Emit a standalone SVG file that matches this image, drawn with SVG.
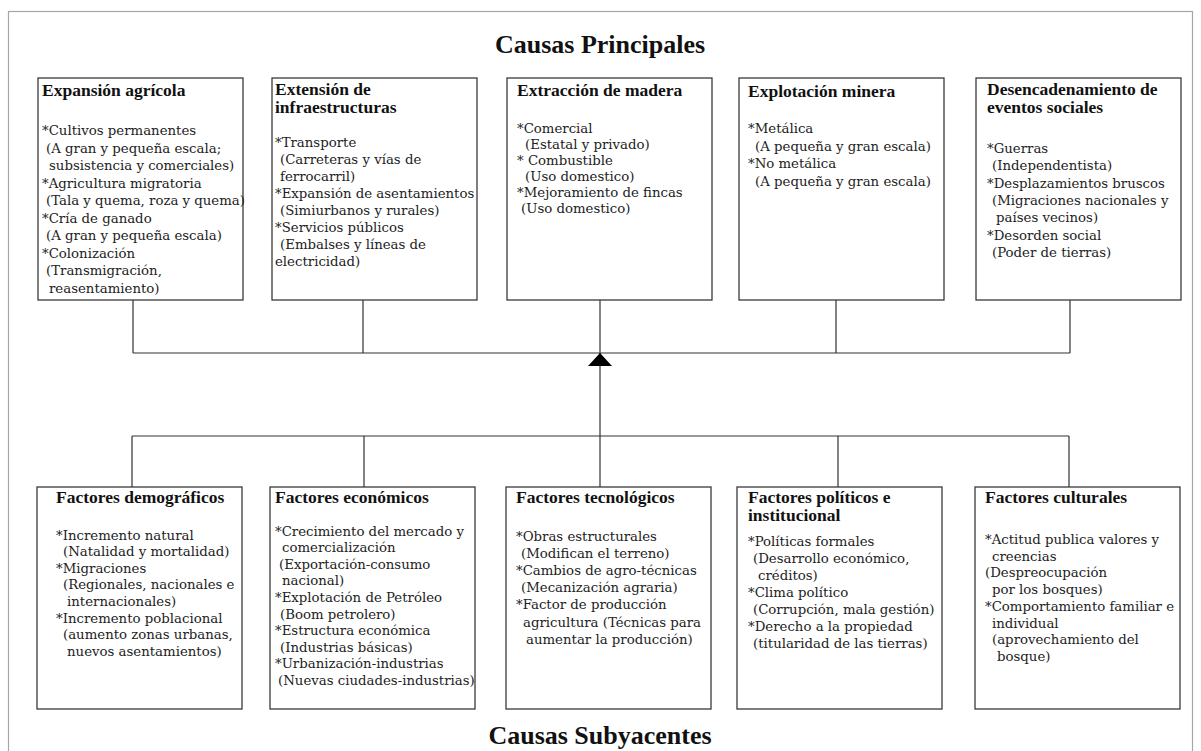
<svg xmlns="http://www.w3.org/2000/svg" width="1201" height="751" viewBox="0 0 1201 751">
<defs>
<style>
.box{fill:#fff;stroke:#3a3a3a;stroke-width:1.3}
.h{font-family:"Liberation Serif","Times New Roman",serif;font-weight:bold;font-size:17.5px;fill:#111}
.b{font-family:"DejaVu Serif",serif;font-size:13.3px;fill:#222}
.t{font-family:"Liberation Serif","Times New Roman",serif;font-weight:bold;font-size:26px;fill:#111;text-anchor:middle}
.c{stroke:#333;stroke-width:1.2;fill:none}
</style>
<marker id="arr" viewBox="0 0 13 24" refX="13" refY="12" markerWidth="13" markerHeight="24" markerUnits="userSpaceOnUse" orient="auto">
<path d="M0,0 L13,12 L0,24 Z" fill="#000"/>
</marker>
</defs>
<rect x="0" y="0" width="1201" height="751" fill="#fff"/>
<rect x="8.5" y="11.5" width="1184" height="760" fill="none" stroke="#a6a6a6" stroke-width="1.2"/>
<g id="titles">
<text class="t" x="600" y="53">Causas Principales</text>
<text class="t" x="600" y="744">Causas Subyacentes</text>
</g>
<g id="connectors">
<path class="c" d="M133 300V353M363 300V353M600 300V353M836 300V353M1070 300V353M133 353H1070"/>
<path class="c" d="M600 436V353" marker-end="url(#arr)"/>
<path class="c" d="M132 436H1069M132 436V487M364 436V487M600 436V487M838 436V487M1069 436V487"/>
</g>
<g id="expansion-agricola">
<rect class="box" x="38" y="78" width="205" height="222"/>
<text class="h" x="42" y="96">Expansión agrícola</text>
<text class="b" x="42" y="135">*Cultivos permanentes</text>
<text class="b" x="46" y="152.5">(A gran y pequeña escala;</text>
<text class="b" x="49" y="170">subsistencia y comerciales)</text>
<text class="b" x="42" y="187.5">*Agricultura migratoria</text>
<text class="b" x="46" y="205">(Tala y quema, roza y quema)</text>
<text class="b" x="42" y="222.5">*Cría de ganado</text>
<text class="b" x="46" y="240">(A gran y pequeña escala)</text>
<text class="b" x="42" y="257.5">*Colonización</text>
<text class="b" x="46" y="275">(Transmigración,</text>
<text class="b" x="49" y="292.5">reasentamiento)</text>
</g>
<g id="extension-infraestructuras">
<rect class="box" x="272" y="78" width="205" height="222"/>
<text class="h" x="275" y="95">Extensión de</text>
<text class="h" x="275" y="113">infraestructuras</text>
<text class="b" x="275" y="146.5">*Transporte</text>
<text class="b" x="280" y="163.5">(Carreteras y vías de</text>
<text class="b" x="280" y="180.5">ferrocarril)</text>
<text class="b" x="275" y="197.5">*Expansión de asentamientos</text>
<text class="b" x="280" y="214.5">(Simiurbanos y rurales)</text>
<text class="b" x="275" y="231.5">*Servicios públicos</text>
<text class="b" x="280" y="248.5">(Embalses y líneas de</text>
<text class="b" x="275" y="265.5">electricidad)</text>
</g>
<g id="extraccion-madera">
<rect class="box" x="507" y="78" width="205" height="222"/>
<text class="h" x="517" y="96">Extracción de madera</text>
<text class="b" x="517" y="133">*Comercial</text>
<text class="b" x="525" y="149">(Estatal y privado)</text>
<text class="b" x="517" y="165">* Combustible</text>
<text class="b" x="525" y="181">(Uso domestico)</text>
<text class="b" x="517" y="197">*Mejoramiento de fincas</text>
<text class="b" x="521" y="213">(Uso domestico)</text>
</g>
<g id="explotacion-minera">
<rect class="box" x="739" y="78" width="205" height="222"/>
<text class="h" x="748" y="97">Explotación minera</text>
<text class="b" x="748" y="133">*Metálica</text>
<text class="b" x="755" y="150.5">(A pequeña y gran escala)</text>
<text class="b" x="748" y="168">*No metálica</text>
<text class="b" x="755" y="185.5">(A pequeña y gran escala)</text>
</g>
<g id="eventos-sociales">
<rect class="box" x="976" y="78" width="205" height="222"/>
<text class="h" x="987" y="95">Desencadenamiento de</text>
<text class="h" x="987" y="113">eventos sociales</text>
<text class="b" x="987" y="153">*Guerras</text>
<text class="b" x="992" y="170.3">(Independentista)</text>
<text class="b" x="987" y="187.6">*Desplazamientos bruscos</text>
<text class="b" x="992" y="204.9">(Migraciones nacionales y</text>
<text class="b" x="996" y="222.2">países vecinos)</text>
<text class="b" x="987" y="239.5">*Desorden social</text>
<text class="b" x="992" y="256.8">(Poder de tierras)</text>
</g>
<g id="factores-demograficos">
<rect class="box" x="37" y="487" width="205" height="222"/>
<text class="h" x="56" y="503">Factores demográficos</text>
<text class="b" x="56" y="539.5">*Incremento natural</text>
<text class="b" x="63" y="556.1">(Natalidad y mortalidad)</text>
<text class="b" x="56" y="572.7">*Migraciones</text>
<text class="b" x="63" y="589.3">(Regionales, nacionales e</text>
<text class="b" x="67" y="605.9">internacionales)</text>
<text class="b" x="56" y="622.5">*Incremento poblacional</text>
<text class="b" x="63" y="639.1">(aumento zonas urbanas,</text>
<text class="b" x="67" y="655.7">nuevos asentamientos)</text>
</g>
<g id="factores-economicos">
<rect class="box" x="270" y="487" width="205" height="222"/>
<text class="h" x="275" y="503">Factores económicos</text>
<text class="b" x="275" y="535.5">*Crecimiento del mercado y</text>
<text class="b" x="282" y="552.1">comercialización</text>
<text class="b" x="279" y="568.7">(Exportación-consumo</text>
<text class="b" x="282" y="585.3">nacional)</text>
<text class="b" x="275" y="601.9">*Explotación de Petróleo</text>
<text class="b" x="280" y="618.5">(Boom petrolero)</text>
<text class="b" x="275" y="635.1">*Estructura económica</text>
<text class="b" x="280" y="651.7">(Industrias básicas)</text>
<text class="b" x="275" y="668.3">*Urbanización-industrias</text>
<text class="b" x="278" y="684.9">(Nuevas ciudades-industrias)</text>
</g>
<g id="factores-tecnologicos">
<rect class="box" x="506" y="487" width="205" height="222"/>
<text class="h" x="516" y="503">Factores tecnológicos</text>
<text class="b" x="516" y="541">*Obras estructurales</text>
<text class="b" x="521" y="558.1">(Modifican el terreno)</text>
<text class="b" x="516" y="575.2">*Cambios de agro-técnicas</text>
<text class="b" x="521" y="592.3">(Mecanización agraria)</text>
<text class="b" x="516" y="609.4">*Factor de producción</text>
<text class="b" x="523" y="626.5">agricultura (Técnicas para</text>
<text class="b" x="526" y="643.6">aumentar la producción)</text>
</g>
<g id="factores-politicos">
<rect class="box" x="737" y="487" width="205" height="222"/>
<text class="h" x="748" y="503">Factores políticos e</text>
<text class="h" x="748" y="521">institucional</text>
<text class="b" x="748" y="546">*Políticas formales</text>
<text class="b" x="753" y="563">(Desarrollo económico,</text>
<text class="b" x="758" y="580">créditos)</text>
<text class="b" x="748" y="597">*Clima político</text>
<text class="b" x="753" y="614">(Corrupción, mala gestión)</text>
<text class="b" x="748" y="631">*Derecho a la propiedad</text>
<text class="b" x="753" y="648">(titularidad de las tierras)</text>
</g>
<g id="factores-culturales">
<rect class="box" x="975" y="487" width="205" height="222"/>
<text class="h" x="985" y="503">Factores culturales</text>
<text class="b" x="985" y="544">*Actitud publica valores y</text>
<text class="b" x="992" y="560.7">creencias</text>
<text class="b" x="985" y="577.4">(Despreocupación</text>
<text class="b" x="992" y="594.1">por los bosques)</text>
<text class="b" x="985" y="610.8">*Comportamiento familiar e</text>
<text class="b" x="992" y="627.5">individual</text>
<text class="b" x="992" y="644.2">(aprovechamiento del</text>
<text class="b" x="997" y="660.9">bosque)</text>
</g>
</svg>
